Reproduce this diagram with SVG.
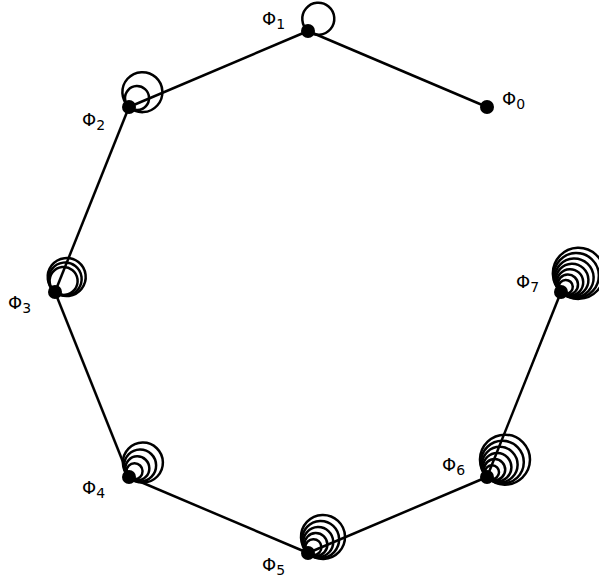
<svg xmlns="http://www.w3.org/2000/svg" width="599" height="584" viewBox="0 0 599 584">
<style>
.edge{stroke:#000;stroke-width:2.5;fill:none}
.loop{stroke:#000;stroke-width:2.5;fill:none}
.dot{fill:#000}
.lbl{font-family:"DejaVu Sans",sans-serif;font-size:18px;fill:#000}
.sub{font-size:14px}
</style>
<rect width="599" height="584" fill="#fff"/>
<g id="connectors">
<line class="edge" x1="487" y1="107" x2="308" y2="31"/>
<line class="edge" x1="308" y1="31" x2="129" y2="107"/>
<line class="edge" x1="129" y1="107" x2="55" y2="292"/>
<line class="edge" x1="55" y1="292" x2="129" y2="477"/>
<line class="edge" x1="129" y1="477" x2="308" y2="553"/>
<line class="edge" x1="308" y1="553" x2="487" y2="477"/>
<line class="edge" x1="487" y1="477" x2="561" y2="292"/>
</g>
<g id="phi0">
<circle class="dot" cx="487" cy="107" r="7"/>
<text class="lbl" x="502" y="105">Φ<tspan class="sub" dy="4">0</tspan></text>
</g>
<g id="phi1">
<g class="loop" transform="translate(308,31) rotate(-50)"><circle cx="16" cy="0" r="16"/></g>
<circle class="dot" cx="308" cy="31" r="7"/>
<text class="lbl" x="262" y="25">Φ<tspan class="sub" dy="4">1</tspan></text>
</g>
<g id="phi2">
<g class="loop" transform="translate(129,107) rotate(-48)"><circle cx="12" cy="0" r="12"/><circle cx="20" cy="0" r="20"/></g>
<circle class="dot" cx="129" cy="107" r="7"/>
<text class="lbl" x="82" y="126">Φ<tspan class="sub" dy="4">2</tspan></text>
</g>
<g id="phi3">
<g class="loop" transform="translate(55,292) rotate(-52)"><circle cx="14" cy="0" r="14"/><circle cx="16.5" cy="0" r="16.5"/><circle cx="19" cy="0" r="19"/></g>
<circle class="dot" cx="55" cy="292" r="7"/>
<text class="lbl" x="8" y="309">Φ<tspan class="sub" dy="4">3</tspan></text>
</g>
<g id="phi4">
<g class="loop" transform="translate(129,477) rotate(-46)"><circle cx="8" cy="0" r="8"/><circle cx="12" cy="0" r="12"/><circle cx="16" cy="0" r="16"/><circle cx="20" cy="0" r="20"/></g>
<circle class="dot" cx="129" cy="477" r="7"/>
<text class="lbl" x="82" y="494">Φ<tspan class="sub" dy="4">4</tspan></text>
</g>
<g id="phi5">
<g class="loop" transform="translate(308,553) rotate(-47)"><circle cx="8" cy="0" r="8"/><circle cx="11.5" cy="0" r="11.5"/><circle cx="15" cy="0" r="15"/><circle cx="18.5" cy="0" r="18.5"/><circle cx="22" cy="0" r="22"/></g>
<circle class="dot" cx="308" cy="553" r="7"/>
<text class="lbl" x="262" y="571">Φ<tspan class="sub" dy="4">5</tspan></text>
</g>
<g id="phi6">
<g class="loop" transform="translate(487,477) rotate(-44)"><circle cx="7" cy="0" r="7"/><circle cx="10.6" cy="0" r="10.6"/><circle cx="14.2" cy="0" r="14.2"/><circle cx="17.8" cy="0" r="17.8"/><circle cx="21.4" cy="0" r="21.4"/><circle cx="25" cy="0" r="25"/></g>
<circle class="dot" cx="487" cy="477" r="7"/>
<text class="lbl" x="442" y="471">Φ<tspan class="sub" dy="4">6</tspan></text>
</g>
<g id="phi7">
<g class="loop" transform="translate(561,292) rotate(-47)"><circle cx="7" cy="0" r="7"/><circle cx="10.1" cy="0" r="10.1"/><circle cx="13.2" cy="0" r="13.2"/><circle cx="16.3" cy="0" r="16.3"/><circle cx="19.4" cy="0" r="19.4"/><circle cx="22.5" cy="0" r="22.5"/><circle cx="25.6" cy="0" r="25.6"/></g>
<circle class="dot" cx="561" cy="292" r="7"/>
<text class="lbl" x="516" y="288">Φ<tspan class="sub" dy="4">7</tspan></text>
</g>
</svg>
